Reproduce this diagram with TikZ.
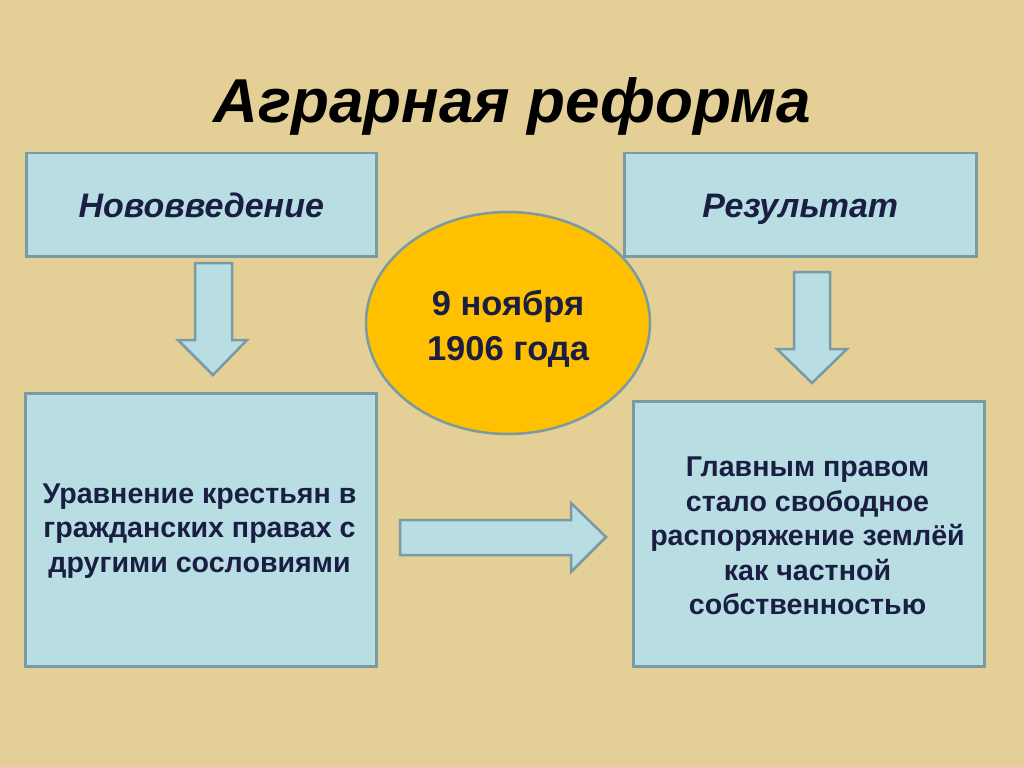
\documentclass[tikz,border=0pt]{standalone}
\usepackage{fontspec}
\setmainfont{Liberation Sans}
\usetikzlibrary{shapes.geometric}
\definecolor{bgtan}{RGB}{228,208,150}
\definecolor{boxfill}{RGB}{184,222,228}
\definecolor{boxline}{RGB}{122,154,164}
\definecolor{navy}{RGB}{26,30,66}
\definecolor{gold}{RGB}{255,192,0}
\tikzset{
  box/.style={draw=boxline, line width=2.5pt, fill=boxfill, inner sep=0pt, anchor=north west},
  head/.style={font=\fontsize{34}{40}\selectfont\bfseries\itshape, text=navy, anchor=base},
  body/.style={font=\fontsize{28.6}{34.5}\selectfont\bfseries, text=navy, align=center},
  blockarrow/.style={draw=boxline, line width=2.5pt, fill=boxfill, line join=miter},
}
\begin{document}
\begin{tikzpicture}[x=1pt,y=-1pt]
\fill[bgtan] (0,0) rectangle (1024,767);
\useasboundingbox (0,0) rectangle (1024,767);

\node[font=\fontsize{62}{70}\selectfont\bfseries\itshape, anchor=base] (title) at (512,123) {Аграрная реформа};

\node[box, minimum width=350pt, minimum height=103pt] (nov) at (25,152) {};
\node[head] (novt) at (nov.center |- 0,218) {Нововведение};
\node[box, minimum width=352pt, minimum height=103pt] (res) at (623,152) {};
\node[head] (rest) at (res.center |- 0,218) {Результат};

\node[draw=boxline, line width=2.5pt, fill=gold, ellipse, minimum width=284pt, minimum height=222pt] (date) at (508,323) {};
\node[font=\fontsize{34.5}{45}\selectfont\bfseries, text=navy, align=center] (datet) at (508,329) {9 ноября\\1906 года};

\node[box, minimum width=351pt, minimum height=273pt] (left) at (24,392) {};
\node[body] (leftt) at (199.5,531) {Уравнение крестьян в\\гражданских правах с\\другими сословиями};
\node[box, minimum width=351pt, minimum height=265pt] (right) at (632,400) {};
\node[body] (rightt) at (807.5,536) {Главным правом\\стало свободное\\распоряжение землёй\\как частной\\собственностью};

% block arrows
\draw[blockarrow] (195,263) -- (232,263) -- (232,340) -- (247,340) -- (213,375) -- (178,340) -- (195,340) -- cycle;
\draw[blockarrow] (794,272) -- (830,272) -- (830,349) -- (847,349) -- (812,383) -- (777,349) -- (794,349) -- cycle;
\draw[blockarrow] (400,520) -- (571,520) -- (571,503) -- (606,537) -- (571,572) -- (571,555) -- (400,555) -- cycle;
\end{tikzpicture}
\end{document}
